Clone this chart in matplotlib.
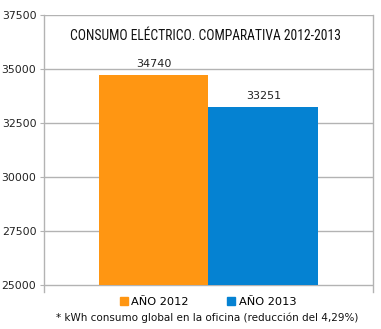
import matplotlib
matplotlib.use("Agg")
import matplotlib.pyplot as plt
from matplotlib.patches import Patch
from matplotlib import font_manager as fm

series = ["AÑO 2012", "AÑO 2013"]
values = [34740, 33251]
colors = ["#FF9612", "#0582D2"]
yticks = [25000, 27500, 30000, 32500, 35000, 37500]
title = "CONSUMO ELÉCTRICO. COMPARATIVA 2012-2013"
note = "* kWh consumo global en la oficina (reducción del 4,29%)"
base = 25000

available = set(fm.get_font_names())
title_family = "DejaVu Sans"
for cand in ["Liberation Sans Narrow", "DejaVu Sans Condensed", "Roboto Condensed",
             "Open Sans Condensed", "Noto Sans Condensed"]:
    if cand in available:
        title_family = cand
        break

fig = plt.figure(figsize=(3.81, 3.29), dpi=100)
ax = fig.add_axes([44/381, 1 - 292/329, (373-44)/381, (292-15)/329])

positions = [-0.5, 0.5]
ax.bar(positions, [v - base for v in values], bottom=base, width=1.0,
       color=colors, zorder=3)
for p, v in zip(positions, values):
    ax.text(p, v + 250, str(v), ha="center", va="bottom", fontsize=8,
            family="DejaVu Sans", color="#222222")

ax.set_xlim(-1.5, 1.5)
ax.set_ylim(base - 7/54*2500, 37500)
ax.set_yticks(yticks)
ax.set_yticklabels([str(t) for t in yticks], fontsize=7.8, family="DejaVu Sans")
ax.set_xticks([])
ax.grid(axis="y", color="#B3B3B3", linewidth=1, zorder=0)
for s in ["top", "bottom"]:
    ax.spines[s].set_visible(False)
for s in ["left", "right"]:
    ax.spines[s].set_color("#B3B3B3")
    ax.spines[s].set_linewidth(1)
ax.tick_params(axis="y", length=3, color="#B3B3B3", pad=2.5, labelcolor="#222222")

t = fig.text(206/381, 1 - 36/329, title, ha="center", va="center",
             family=title_family, fontsize=12, color="#111111")
fig.canvas.draw()
w = t.get_window_extent().width
t.set_fontsize(12 * 270 / w)

handles = [Patch(color=c, label=s) for c, s in zip(colors, series)]
fig.legend(handles=handles, loc="center", bbox_to_anchor=(208/381, 1 - 302/329),
           ncol=2, frameon=False, fontsize=8.2, handlelength=0.7, handleheight=0.7,
           handletextpad=0.3, columnspacing=3.4, borderpad=0)
fig.text(207/381, 1 - 318/329, note, ha="center", va="center", fontsize=7.5,
         family="DejaVu Sans", color="#111111")

fig.savefig("out.png", dpi=100)
